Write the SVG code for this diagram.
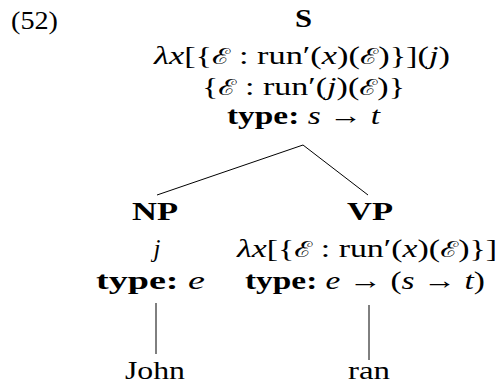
<svg xmlns="http://www.w3.org/2000/svg" width="499" height="385" viewBox="0 0 499 385">
<style>
text{font-family:"Liberation Serif","DejaVu Serif",serif;font-size:25px;fill:#000}
.m{text-anchor:middle}
.i{font-style:italic}
.b{font-weight:bold}
.e{font-family:"DejaVu Serif","Noto Sans",serif;font-style:italic;font-size:22px}
line{stroke:#000;stroke-width:1}
</style>
<rect width="499" height="385" fill="#fff"/>
<text x="11" y="29" textLength="47" lengthAdjust="spacingAndGlyphs">(52)</text>
<g id="S">
<text class="b" x="295" y="27" textLength="17" lengthAdjust="spacingAndGlyphs">S</text>
<text x="154" y="64" textLength="296" lengthAdjust="spacingAndGlyphs"><tspan class="i">λx</tspan>[{<tspan class="e">ℰ</tspan>  : run′(<tspan class="i">x</tspan>)(<tspan class="e">ℰ</tspan>)}](<tspan class="i">j</tspan>)</text>
<text x="202" y="95" textLength="203" lengthAdjust="spacingAndGlyphs">{<tspan class="e">ℰ</tspan>  : run′(<tspan class="i">j</tspan>)(<tspan class="e">ℰ</tspan>)}</text>
<text x="227" y="124" textLength="153" lengthAdjust="spacingAndGlyphs"><tspan class="b">type:</tspan> <tspan class="i">s</tspan> → <tspan class="i">t</tspan></text>
</g>
<g id="NP">
<text class="b" x="132" y="220" textLength="46" lengthAdjust="spacingAndGlyphs">NP</text>
<text class="m i" x="157" y="257">j</text>
<text x="96" y="289" textLength="109" lengthAdjust="spacingAndGlyphs"><tspan class="b">type:</tspan>  <tspan class="i">e</tspan></text>
</g>
<g id="VP">
<text class="b" x="347" y="220" textLength="46" lengthAdjust="spacingAndGlyphs">VP</text>
<text x="237" y="257" textLength="260" lengthAdjust="spacingAndGlyphs"><tspan class="i">λx</tspan>[{<tspan class="e">ℰ</tspan>  : run′(<tspan class="i">x</tspan>)(<tspan class="e">ℰ</tspan>)}]</text>
<text x="245" y="289" textLength="240" lengthAdjust="spacingAndGlyphs"><tspan class="b">type:</tspan> <tspan class="i">e</tspan> → (<tspan class="i">s</tspan> → <tspan class="i">t</tspan>)</text>
</g>
<g id="John"><text x="125" y="379" textLength="60" lengthAdjust="spacingAndGlyphs">John</text></g>
<g id="ran"><text x="348" y="379" textLength="42" lengthAdjust="spacingAndGlyphs">ran</text></g>
<g id="connectors">
<line x1="303" y1="145" x2="157" y2="195"/>
<line x1="303" y1="145" x2="368" y2="195"/>
<line x1="156" y1="303" x2="156" y2="354"/>
<line x1="369" y1="305" x2="369" y2="360"/>
</g>
</svg>
